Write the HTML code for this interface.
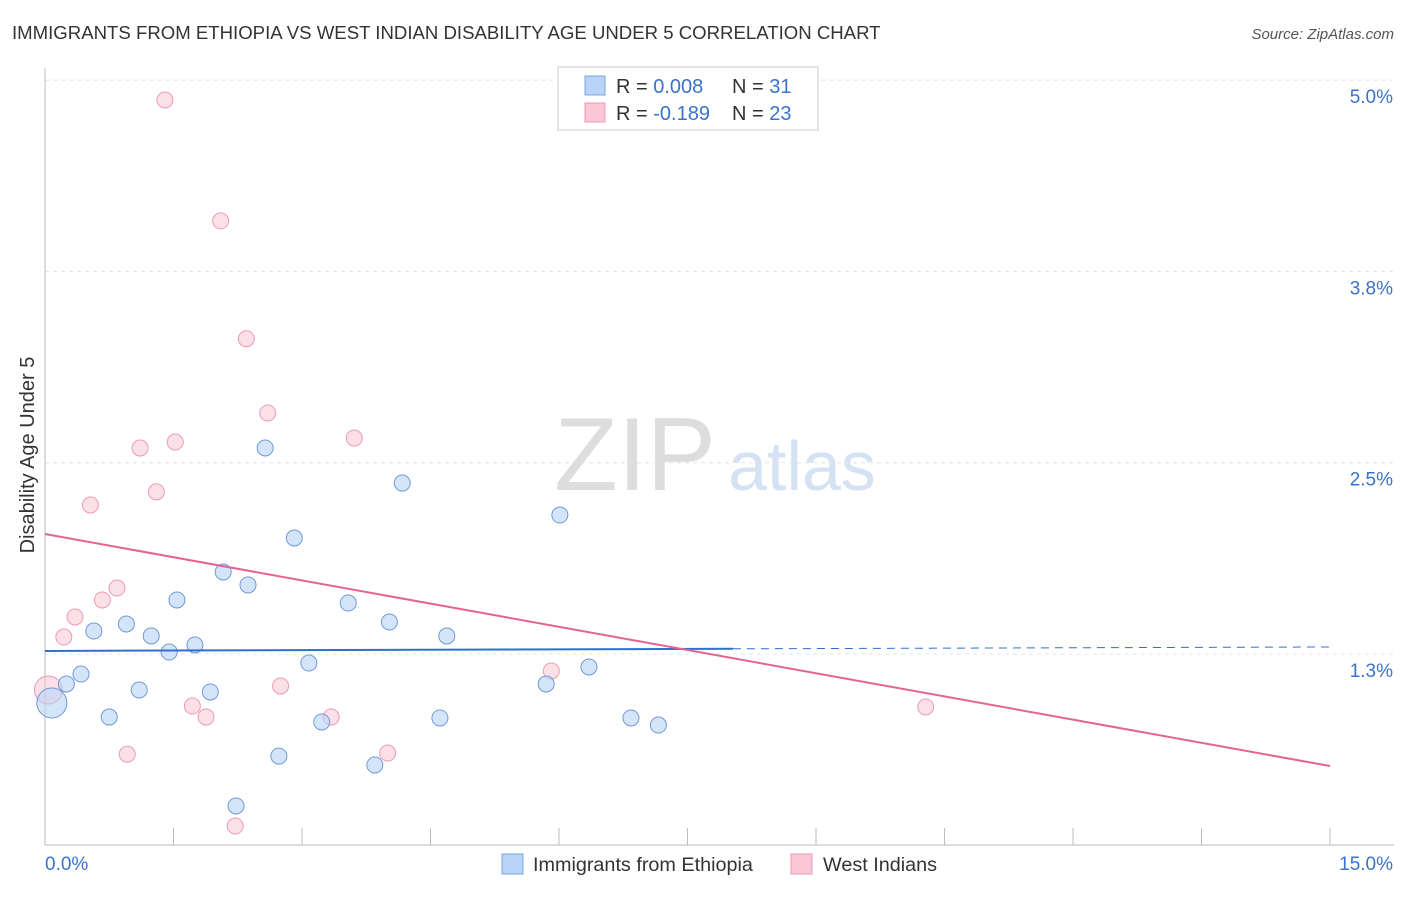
<!DOCTYPE html>
<html><head><meta charset="utf-8">
<style>
body{margin:0;background:#fff;font-family:"Liberation Sans",sans-serif;}
svg text{font-family:"Liberation Sans",sans-serif;}
</style></head>
<body>
<svg id="chart" width="1406" height="892">
<text x="12" y="39" font-size="18.6" fill="#333">IMMIGRANTS FROM ETHIOPIA VS WEST INDIAN DISABILITY AGE UNDER 5 CORRELATION CHART</text>
<text x="1394" y="39" font-size="15" fill="#555" font-style="italic" text-anchor="end">Source: ZipAtlas.com</text>
<text x="635" y="490" font-size="104" fill="#ddd" font-family="Liberation Serif" text-anchor="middle">ZIP</text>
<text x="802" y="490" font-size="70" fill="#d4e2f4" text-anchor="middle">atlas</text>
<text transform="translate(34,455) rotate(-90)" font-size="20" fill="#333" text-anchor="middle">Disability Age Under 5</text>
<g id="grid"></g><g id="axes"></g><g id="marks"></g>
<g>
<rect x="558" y="67" width="260" height="63" fill="#fff" stroke="#ccc"/>
<rect x="585" y="76" width="20" height="19" fill="#b8d3f5" stroke="#7aa6e0"/>
<rect x="585" y="103" width="20" height="19" fill="#f9c6d5" stroke="#ee9ab3"/>
<text x="616" y="93" font-size="20" fill="#333">R = <tspan fill="#3a73cc">0.008</tspan><tspan x="732">N = </tspan><tspan fill="#3a73cc">31</tspan></text>
<text x="616" y="120" font-size="20" fill="#333">R = <tspan fill="#3a73cc">-0.189</tspan><tspan x="732">N = </tspan><tspan fill="#3a73cc">23</tspan></text>
</g>
<g>
<rect x="502" y="854" width="21" height="20" fill="#b8d3f5" stroke="#7aa6e0"/>
<text x="533" y="871" font-size="19.8" fill="#333">Immigrants from Ethiopia</text>
<rect x="791" y="854" width="21" height="20" fill="#f9c6d5" stroke="#ee9ab3"/>
<text x="823" y="871" font-size="19.8" fill="#333">West Indians</text>
</g>
</svg>
<script>
const xTicks=[0,1.5,3,4.5,6,7.5,9,10.5,12,13.5,15];
const yTicks=[1.25,2.5,3.75,5.0];
const yTickLabels=["1.3%","2.5%","3.8%","5.0%"];
const ethX=[0.08,0.25,0.42,0.57,0.75,0.95,1.10,1.24,1.45,1.54,1.75,1.93,2.08,2.23,2.37,2.57,2.73,2.91,3.08,3.23,3.54,3.85,4.02,4.17,4.61,4.69,5.85,6.01,6.35,6.84,7.16];
const ethY=[0.93,1.054,1.119,1.40,0.838,1.446,1.015,1.368,1.263,1.603,1.309,1.002,1.786,0.257,1.701,2.596,0.583,2.008,1.191,0.806,1.583,0.525,1.459,2.367,0.832,1.368,1.054,2.158,1.165,0.832,0.786];
const wiX=[0.04,0.22,0.35,0.53,0.67,0.84,0.96,1.11,1.30,1.40,1.52,1.72,1.88,2.05,2.22,2.35,2.60,2.75,3.34,3.61,4.00,5.91,10.28];
const wiY=[1.015,1.361,1.492,2.224,1.603,1.681,0.595,2.596,2.309,4.87,2.635,0.91,0.838,4.08,0.126,3.31,2.825,1.041,0.838,2.661,0.603,1.139,0.904];
const ethTrend=[1.27,1.296];
const wiTrend=[2.034,0.518];
const ethSolidEnd=8.03;
const NS='http://www.w3.org/2000/svg';
const X=v=>45+v/15*1285;
const Y=v=>654-(v-1.25)/1.25*191.3;
function mk(tag,attrs,parent){const e=document.createElementNS(NS,tag);for(const k in attrs)e.setAttribute(k,attrs[k]);document.getElementById(parent).appendChild(e);return e;}
yTicks.forEach((t,i)=>{
 const l=mk('line',{x1:45,x2:1394,y1:Y(t),y2:Y(t),stroke:'#e4e4e4','stroke-dasharray':'4,4'},'grid');
 
 
 const tx=mk('text',{x:1393,y:Y(t)+23,'font-size':19,fill:'#3a73cc','text-anchor':'end'},'axes');
 tx.textContent=yTickLabels[i];
 
 
});
const ax=mk('line',{x1:45,x2:1394,y1:845,y2:845,stroke:'#bbb'},'axes');


const ay=mk('line',{x1:45,x2:45,y1:68,y2:845,stroke:'#bbb'},'axes');


xTicks.forEach(t=>{
 const l=mk('line',{x1:X(t),x2:X(t),y1:828,y2:845,stroke:'#bbb'},'axes');
 
 
});
const x0=mk('text',{x:45,y:870,'font-size':19,fill:'#3a73cc'},'axes');x0.textContent='0.0%';


const x1=mk('text',{x:1393,y:870,'font-size':19,fill:'#3a73cc','text-anchor':'end'},'axes');x1.textContent='15.0%';


wiX.forEach((v,i)=>{
 const c=mk('circle',{cx:X(v),cy:Y(wiY[i]),r:i==0?14:8,fill:'rgba(249,198,213,0.55)',stroke:'#ee9ab3','stroke-width':1},'marks');
 
 
});
ethX.forEach((v,i)=>{
 const c=mk('circle',{cx:X(v),cy:Y(ethY[i]),r:i==0?15:8,fill:'rgba(184,211,245,0.6)',stroke:'#6f9ad6','stroke-width':1},'marks');
 
 
});
const ey=v=>ethTrend[0]+(ethTrend[1]-ethTrend[0])*v/15;
const l1=mk('line',{x1:X(0),y1:Y(ey(0)),x2:X(ethSolidEnd),y2:Y(ey(ethSolidEnd)),stroke:'#2f6fd0','stroke-width':2},'marks');


const l2=mk('line',{x1:X(ethSolidEnd),y1:Y(ey(ethSolidEnd)),x2:X(15),y2:Y(ey(15)),stroke:'#2f6fd0','stroke-width':1,'stroke-dasharray':'8,6'},'marks');


const l3=mk('line',{x1:X(0),y1:Y(wiTrend[0]),x2:X(15),y2:Y(wiTrend[1]),stroke:'#e4648e','stroke-width':2},'marks');


</script>
</body></html>
